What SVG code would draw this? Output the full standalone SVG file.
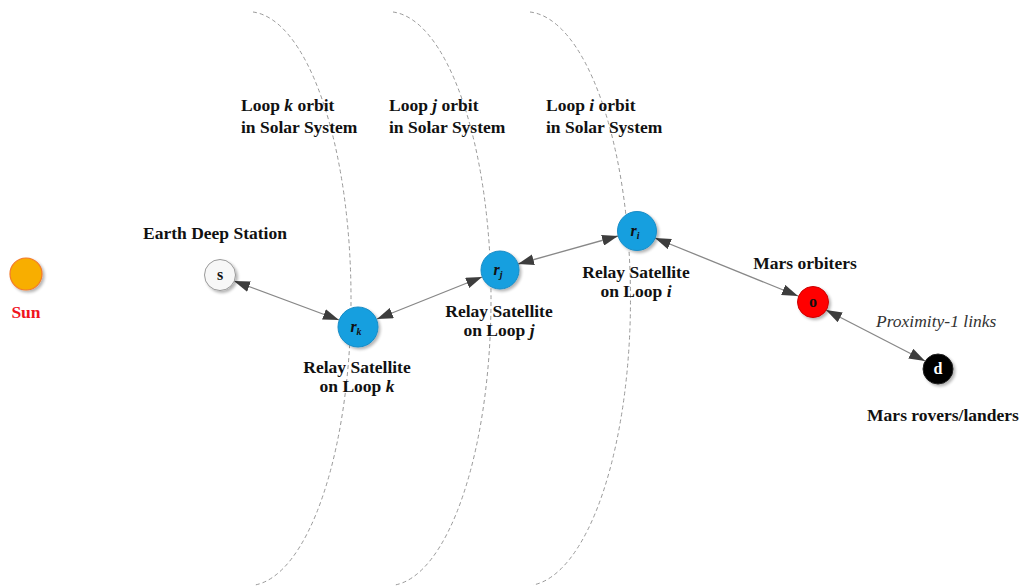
<svg xmlns="http://www.w3.org/2000/svg" width="1021" height="587" viewBox="0 0 1021 587">
  <defs>
    <marker id="ah" viewBox="0 0 16 11" refX="16" refY="5.5" markerWidth="16" markerHeight="11" markerUnits="userSpaceOnUse" orient="auto-start-reverse">
      <path d="M0,0 L16,5.5 L0,11 Z" fill="#3d3d3d"/>
    </marker>
    <filter id="shadow" x="-40%" y="-40%" width="180%" height="180%">
      <feGaussianBlur in="SourceAlpha" stdDeviation="1.5"/>
      <feOffset dx="2" dy="2" result="b"/>
      <feComponentTransfer><feFuncA type="linear" slope="0.3"/></feComponentTransfer>
      <feMerge><feMergeNode/><feMergeNode in="SourceGraphic"/></feMerge>
    </filter>
  </defs>
  <style>
    text { font-family: "Liberation Serif", "Times New Roman", serif; fill: #111; }
    .lbl { font-size: 17.5px; font-weight: bold; }
    .mid { text-anchor: middle; }
    .orbit { fill: none; stroke: #999; stroke-width: 1; stroke-dasharray: 4 3; }
    .link { stroke: #888; stroke-width: 1.3; fill: none; marker-start: url(#ah); marker-end: url(#ah); }
    .node { filter: url(#shadow); }
    .relay { fill: #169fdf; stroke: #1a8cc6; stroke-width: 1; }
    .sym { font-size: 16px; font-weight: bold; text-anchor: middle; }
  </style>
  <rect width="1021" height="587" fill="#fff"/>

  <!-- orbit loops -->
  <g id="orbits">
    <path class="orbit" d="M253,12 A103,287 0 0 1 255,585"/>
    <path class="orbit" d="M393,12 A103,287 0 0 1 395,585"/>
    <path class="orbit" d="M530,12 A105,287 0 0 1 533,585"/>
  </g>

  <g id="orbit-labels">
    <text class="lbl" x="241" y="111">Loop <tspan font-style="italic">k</tspan> orbit</text>
    <text class="lbl" x="241" y="133">in Solar System</text>
    <text class="lbl" x="389" y="111">Loop <tspan font-style="italic">j</tspan> orbit</text>
    <text class="lbl" x="389" y="133">in Solar System</text>
    <text class="lbl" x="546" y="111">Loop <tspan font-style="italic">i</tspan> orbit</text>
    <text class="lbl" x="546" y="133">in Solar System</text>
  </g>

  <!-- links -->
  <g id="connectors">
    <line class="link" x1="234" y1="281" x2="339" y2="320"/>
    <line class="link" x1="377" y1="319" x2="482" y2="277"/>
    <line class="link" x1="518" y1="264" x2="618" y2="236"/>
    <line class="link" x1="655" y1="238" x2="798" y2="296"/>
    <line class="link" x1="826" y1="310" x2="925" y2="361"/>
  </g>

  <g id="sun">
    <circle class="node" cx="26" cy="274" r="16" fill="#f8ae00" stroke="#f37a2a" stroke-width="1.2"/>
    <text class="lbl mid" x="26" y="318" style="fill:#f0141e">Sun</text>
  </g>

  <g id="earth-station">
    <circle class="node" cx="220" cy="275" r="15.5" fill="#f7f7f7" stroke="#999" stroke-width="1"/>
    <text class="sym" x="220" y="280">s</text>
    <text class="lbl mid" x="215" y="239">Earth Deep Station</text>
  </g>

  <g id="relay-k">
    <circle class="node relay" cx="358" cy="327" r="20"/>
    <text class="sym" x="356" y="332" font-style="italic">r<tspan font-size="10" dy="3">k</tspan></text>
    <text class="lbl mid" x="357" y="373">Relay Satellite</text>
    <text class="lbl mid" x="357" y="392">on Loop <tspan font-style="italic">k</tspan></text>
  </g>

  <g id="relay-j">
    <circle class="node relay" cx="500" cy="270" r="19"/>
    <text class="sym" x="498" y="275" font-style="italic">r<tspan font-size="10" dy="3">j</tspan></text>
    <text class="lbl mid" x="499" y="317">Relay Satellite</text>
    <text class="lbl mid" x="499" y="336">on Loop <tspan font-style="italic">j</tspan></text>
  </g>

  <g id="relay-i">
    <circle class="node relay" cx="637" cy="231" r="19.5"/>
    <text class="sym" x="635" y="236" font-style="italic">r<tspan font-size="10" dy="3">i</tspan></text>
    <text class="lbl mid" x="636" y="278">Relay Satellite</text>
    <text class="lbl mid" x="636" y="297">on Loop <tspan font-style="italic">i</tspan></text>
  </g>

  <g id="mars-orbiter">
    <circle class="node" cx="813" cy="302" r="15.5" fill="#f00" stroke="#c00" stroke-width="1"/>
    <text class="sym" x="813" y="307">o</text>
    <text class="lbl mid" x="805" y="269">Mars orbiters</text>
  </g>

  <g id="mars-lander">
    <circle class="node" cx="938" cy="369" r="15" fill="#000" stroke="#222" stroke-width="1"/>
    <text class="sym" x="938" y="374" style="fill:#fff">d</text>
    <text class="lbl mid" x="943" y="421">Mars rovers/landers</text>
  </g>

  <text x="876" y="327" font-size="17.5" font-style="italic" style="fill:#333">Proximity-1 links</text>
</svg>
